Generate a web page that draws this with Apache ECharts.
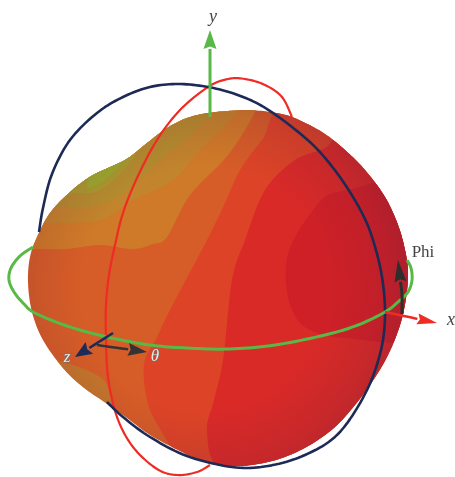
<!DOCTYPE html>
<html><head><meta charset="utf-8">
<style>html,body{margin:0;padding:0;background:#fff}#c{width:455px;height:477px}</style>
<script src="https://cdn.jsdelivr.net/npm/echarts@6/dist/echarts.min.js"></script>
</head><body><div id="c"></div>
<script>
// Surface outline and contour levels (x, y in picture units)
const outline = [[228,111],[248,110],[270,112],[292,117],[322,132],[345,150],[365,170],[385,197],[398,225],[405,250],[408,272],[406,298],[400,325],[388,355],[372,382],[355,405],[335,427],[310,445],[282,458],[252,465],[225,466],[205,462],[180,451],[150,435],[127,418],[103,401],[83,387],[63,368],[43,340],[32,312],[28,282],[30,257],[37,237],[50,213],[70,192],[93,175],[125,160],[147,143],[167,128],[187,118],[208,113]];
const levelGold = [[0,249],[36,249],[67,249],[100,245],[133,249],[153,244],[167,237],[190,195],[228,155],[255,112],[260,90],[100,80],[0,150]];
const levelGoldLow = [[50,362],[100,377],[113,403],[133,434],[170,450],[170,480],[60,480],[40,400]];
const levelOlive = [[20,223],[50,223],[100,220],[133,200],[173,180],[200,150],[230,120],[240,95],[120,90],[20,170]];
const levelOliveDeep = [[40,207],[62,207],[83,208],[117,197],[153,167],[207,118],[207,95],[120,120],[40,170]];
const levelYellowGreen = [[60,194],[75,193],[100,190],[130,163],[135,140],[90,150],[60,170]];
const levelGreen = [[87,187],[100,183],[120,165],[120,150],[95,165]];
const levelOrangeRed = [[295,100],[262,140],[240,170],[225,203],[207,240],[173,304],[157,337],[144,364],[148,404],[163,434],[180,458],[210,480],[300,490],[440,420],[440,100]];
const levelRed = [[350,130],[325,148],[295,160],[265,190],[245,240],[232,280],[223,360],[214,400],[207,432],[222,470],[300,490],[440,420],[440,130]];
const levelCore = [[400,185],[348,190],[325,197],[308,217],[295,237],[287,258],[286,283],[292,310],[308,329],[345,338],[420,335],[435,250]];
const bandLevels = [levelGold, levelGoldLow, levelOlive, levelOliveDeep, levelYellowGreen, levelGreen, levelOrangeRed, levelRed, levelCore];
const bandColors = ['#cf7a28','#c4772b','#c2842c','#b48c2e','#a89a2e','#9aa92e','#dd4427','#d92a28','#d02027'];

// Visible parts of the three rings
const ringGreen = [[33,247],[20,256],[11,268],[9,280],[14,292],[24,304],[35,313],[67,326],[107,337],[150,345],[187,348],[230,349],[275,345],[325,335],[358,325],[385,312],[398,302],[408,292],[412,280],[411,268],[407,260]];
const ringNavy = [[39,232],[43,208],[52,174],[70,140],[97,113],[123,97],[150,87],[178,84],[208,87],[235,94],[262,106],[292,127],[318,150],[342,180],[362,213],[373,240],[382,277],[385,317],[380,354],[365,394],[338,434],[305,455],[268,466],[232,467],[187,456],[150,437],[123,417],[107,402]];
const ringRed = [[292,117],[282,97],[265,85],[245,79],[228,79],[208,87],[180,110],[157,140],[137,178],[123,213],[115,245],[109,275],[106,305],[106,337],[108,377],[117,417],[133,447],[157,469],[177,475],[197,472],[210,465]];
const rings = [ringRed, ringNavy, ringGreen];
const ringColors = ['#ee2b24','#1c2a55','#58b947'];
const ringWidths = [2.2,2.6,3];

// Axis arrows: polyline, last point is the tip
const arrowY = [[210,117],[210,30]];
const arrowX = [[385,312],[437,323]];
const arrowPhi = [[402,314],[402,295],[398,260]];
const arrowTheta = [[97,345],[147,352]];
const arrowZ = [[113,333],[75,357]];
const arrows = [arrowY, arrowX, arrowPhi, arrowTheta, arrowZ];
const arrowColors = ['#58b947','#ee2c24','#2e2e2e','#333333','#1c2b5a'];
const arrowWidths = [3,2.5,3,2.5,2.5];
const arrowHeads = [[19,13],[20,11],[22,12],[19,13],[17,14]];

// Labels
const labelTexts = ['y','x','Phi','z','θ'];
const labelSpots = [[213,17],[451,320],[423,253],[67,358],[155,357]];

const pick = (api, pts) => pts.map(p => api.coord(p));
// Catmull-Rom tracing through the read points, only to draw a clean curve
function curve(pts, closed) {
  const n = pts.length, out = [], steps = 10;
  const at = i => closed ? pts[(i+n)%n] : pts[Math.max(0,Math.min(n-1,i))];
  const last = closed ? n : n-1;
  for (let i=0;i<last;i++) {
    const a=at(i-1),b=at(i),c=at(i+1),d=at(i+2);
    for (let s=0;s<steps;s++) {
      const t=s/steps,t2=t*t,t3=t2*t;
      out.push([0,1].map(k=>0.5*(2*b[k]+(c[k]-a[k])*t+(2*a[k]-5*b[k]+4*c[k]-d[k])*t2+(3*b[k]-a[k]-3*c[k]+d[k])*t3)));
    }
  }
  if(!closed) out.push(pts[n-1]);
  return out;
}
function renderBand(params, api) {
  const i = api.value(0);
  const clip = {type:'polygon', shape:{points:curve(pick(api, outline),true)}};
  return {type:'polygon', shape:{points:curve(pick(api, bandLevels[i]),true)},
    style:{fill:bandColors[i]}, clipPath:clip, silent:true};
}
function renderRing(params, api) {
  const i = api.value(0);
  return {type:'polyline', silent:true, shape:{points:curve(pick(api, rings[i]),false)},
    style:{stroke:ringColors[i], lineWidth:ringWidths[i], fill:'none', lineJoin:'round'}};
}
function renderArrow(params, api) {
  const i = api.value(0);
  const pts = pick(api, arrows[i]);
  const tip = pts[pts.length-1], prev = pts[pts.length-2];
  const dx = tip[0]-prev[0], dy = tip[1]-prev[1], d = Math.hypot(dx,dy);
  const ux = dx/d, uy = dy/d, [hl,hw] = arrowHeads[i];
  const bx = tip[0]-ux*hl, by = tip[1]-uy*hl;
  const shaft = curve(pts.slice(0,-1).concat([[bx,by]]),false);
  return {type:'group', silent:true, children:[
    {type:'polyline', shape:{points:shaft}, style:{stroke:arrowColors[i], lineWidth:arrowWidths[i], fill:'none'}},
    {type:'polygon', shape:{points:[tip,[bx-uy*hw/2,by+ux*hw/2],[bx+ux*2.5,by+uy*2.5],[bx+uy*hw/2,by-ux*hw/2]]}, style:{fill:arrowColors[i]}}
  ]};
}
function renderLabel(params, api) {
  const i = api.value(0);
  const p = api.coord(labelSpots[i]);
  const outlined = i >= 3;
  return {type:'text', x:p[0], y:p[1], silent:true, style:{
    text:labelTexts[i], align:'center', verticalAlign:'middle',
    font:(i===2?'normal ':'italic ')+(outlined?'17px':(i===2?'17px':'18px'))+' "Liberation Serif"',
    fill:outlined?'#efe6e0':'#444444', stroke:outlined?'#6f6f6f':null, lineWidth:outlined?1.2:0}};
}
function renderBase(params, api) {
  return {type:'polygon', shape:{points:curve(pick(api, outline),true)}, silent:true, style:{fill:'#d65d27'}};
}
function renderShade(params, api) {
  return {type:'polygon', shape:{points:curve(pick(api, outline),true)}, silent:true, style:{fill:{
    type:'radial', x:0.46, y:0.5, r:0.62, colorStops:[
      {offset:0,color:'rgba(110,30,55,0)'},{offset:0.55,color:'rgba(110,30,55,0)'},
      {offset:0.8,color:'rgba(110,30,55,0.16)'},{offset:1,color:'rgba(110,30,55,0.42)'}]}}};
}
const idx = a => a.map((_, i) => [i]);

const chart = echarts.init(document.getElementById('c'));
chart.setOption({
  animation:false, backgroundColor:'#ffffff',
  grid:{left:0,right:0,top:0,bottom:0},
  xAxis:{type:'value',min:0,max:455,show:false},
  yAxis:{type:'value',min:0,max:477,inverse:true,show:false},
  tooltip:{show:false},
  series:[
    {type:'custom',z:1,data:[[0]],renderItem:renderBase,clip:false},
    {type:'custom',z:2,data:idx(bandLevels),renderItem:renderBand,clip:false},
    {type:'custom',z:3,data:[[0]],renderItem:renderShade,clip:false},
    {type:'custom',z:4,data:idx(rings),renderItem:renderRing,clip:false},
    {type:'custom',z:7,data:idx(arrows),renderItem:renderArrow,clip:false},
    {type:'custom',z:8,data:idx(labelTexts),renderItem:renderLabel,clip:false}
  ]
});
</script></body></html>
